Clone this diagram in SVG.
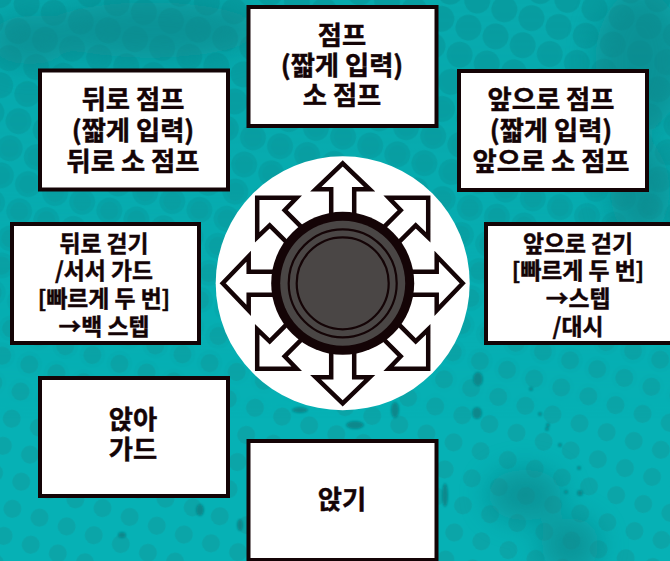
<svg xmlns="http://www.w3.org/2000/svg" width="670" height="561" viewBox="0 0 670 561">
<style>
.box{fill:#fff;stroke:#140406;stroke-width:4}
.t{font-family:"Noto Sans CJK KR","Noto Sans",sans-serif;font-weight:700;fill:#140406;text-anchor:middle;stroke:#140406;stroke-width:.45}
.l{font-size:26.3px}
.m{font-size:22.8px}
.arrow{fill:#fff;stroke:#140406;stroke-width:4.5;stroke-miterlimit:10}
</style>
<defs>
<pattern id="dots" width="28.5" height="28.5" patternUnits="userSpaceOnUse" patternTransform="translate(480 361) rotate(18)">
<circle cx="0" cy="0" r="9" fill="#0ba5a8"/><circle cx="28.5" cy="0" r="9" fill="#0ba5a8"/><circle cx="0" cy="28.5" r="9" fill="#0ba5a8"/><circle cx="28.5" cy="28.5" r="9" fill="#0ba5a8"/>
</pattern>
<pattern id="dotsBig" width="28.5" height="28.5" patternUnits="userSpaceOnUse" patternTransform="translate(480 361) rotate(18)">
<circle cx="0" cy="0" r="13" fill="#079497"/><circle cx="28.5" cy="0" r="13" fill="#079497"/><circle cx="0" cy="28.5" r="13" fill="#079497"/><circle cx="28.5" cy="28.5" r="13" fill="#079497"/>
</pattern>
<linearGradient id="fade" x1="0" y1="0" x2="0" y2="1"><stop offset="0" stop-color="#fff"/><stop offset=".45" stop-color="#fff" stop-opacity=".75"/><stop offset="1" stop-color="#fff" stop-opacity="0"/></linearGradient>
<mask id="topFade" maskUnits="userSpaceOnUse" x="0" y="0" width="670" height="561"><rect width="670" height="420" fill="url(#fade)"/></mask>
<filter id="soft" x="-50%" y="-50%" width="200%" height="200%"><feGaussianBlur stdDeviation="14"/></filter>
<filter id="soft2" x="-50%" y="-50%" width="200%" height="200%"><feGaussianBlur stdDeviation="1"/></filter>
<polygon id="up" points="0,-120 27,-94 11.5,-94 11.5,-65 -11.5,-65 -11.5,-94 -27,-94"/>
<polygon id="diag" points="-85.5,-85.5 -46,-85.5 -58,-73 -38,-53 -53,-38 -73,-58 -85.5,-46"/>
</defs>
<g id="background">
<rect width="670" height="561" fill="#06b1b5"/>
<rect width="670" height="561" fill="url(#dots)"/>
<g mask="url(#topFade)">
<rect width="670" height="420" fill="#07a9ad"/>
<rect width="670" height="420" fill="url(#dotsBig)" opacity=".6"/>
</g>
<g filter="url(#soft)" fill="#07888c" opacity=".7">
<ellipse cx="150" cy="30" rx="110" ry="28"/>
<ellipse cx="30" cy="40" rx="40" ry="25"/>
<ellipse cx="640" cy="60" rx="45" ry="70"/>
<ellipse cx="640" cy="190" rx="30" ry="50"/>
<ellipse cx="525" cy="495" rx="38" ry="26"/>
<ellipse cx="570" cy="545" rx="30" ry="28"/>
</g>
<g filter="url(#soft2)" fill="#07888c">
<ellipse cx="478" cy="379" rx="5" ry="7"/><ellipse cx="477" cy="413" rx="5" ry="6"/><ellipse cx="445" cy="495" rx="3" ry="12"/><ellipse cx="300" cy="410" rx="8" ry="3"/><ellipse cx="355" cy="425" rx="9" ry="4"/><ellipse cx="395" cy="410" rx="4" ry="8"/><ellipse cx="240" cy="525" rx="3" ry="6"/><ellipse cx="200" cy="510" rx="4" ry="6"/><ellipse cx="122" cy="535" rx="4" ry="3"/>
<circle cx="531" cy="389" r="2"/><circle cx="540" cy="414" r="2"/><circle cx="547" cy="429" r="2"/><circle cx="548" cy="425" r="2"/><circle cx="560" cy="445" r="2"/><circle cx="579" cy="468" r="2"/><circle cx="580" cy="493" r="3"/><circle cx="566" cy="492" r="2"/>
</g>
</g>
<g id="connectors">
<circle cx="342.7" cy="283.3" r="127" fill="#fff"/>
<use href="#up" class="arrow" transform="translate(342.7 283.3)"/>
<use href="#up" class="arrow" transform="translate(342.7 283.3) rotate(90)"/>
<use href="#up" class="arrow" transform="translate(342.7 283.3) rotate(180)"/>
<use href="#up" class="arrow" transform="translate(342.7 283.3) rotate(270)"/>
<use href="#diag" class="arrow" transform="translate(342.7 283.3)"/>
<use href="#diag" class="arrow" transform="translate(342.7 283.3) rotate(90)"/>
<use href="#diag" class="arrow" transform="translate(342.7 283.3) rotate(180)"/>
<use href="#diag" class="arrow" transform="translate(342.7 283.3) rotate(270)"/>
</g>
<g id="stick">
<circle cx="342.7" cy="283.3" r="71.5" fill="#140406"/>
<circle cx="342.7" cy="283.3" r="62.5" fill="#4a4645"/>
<circle cx="342.7" cy="283.3" r="54" fill="none" stroke="#140406" stroke-width="2.2"/>
<circle cx="342.7" cy="283.3" r="46" fill="none" stroke="#140406" stroke-width="2.2"/>
</g>
<g id="node-jump">
<rect class="box" x="248.500" y="7" width="188" height="119"/>
<text class="t l" x="342" y="45">점프</text>
<text class="t l" x="342" y="75">(짧게 입력)</text>
<text class="t l" x="342" y="105">소 점프</text>
</g>
<g id="node-back-jump">
<rect class="box" x="40" y="70.500" width="188" height="119"/>
<text class="t l" x="133" y="109">뒤로 점프</text>
<text class="t l" x="133" y="140">(짧게 입력)</text>
<text class="t l" x="133" y="171">뒤로 소 점프</text>
</g>
<g id="node-forward-jump">
<rect class="box" x="459" y="71" width="188" height="119"/>
<text class="t l" x="551" y="109">앞으로 점프</text>
<text class="t l" x="551" y="140">(짧게 입력)</text>
<text class="t l" x="551" y="171">앞으로 소 점프</text>
</g>
<g id="node-back-walk">
<rect class="box" x="12" y="224" width="187" height="119"/>
<text class="t m" x="104" y="252">뒤로 걷기</text>
<text class="t m" x="104" y="279">/서서 가드</text>
<text class="t m" x="104" y="307">[빠르게 두 번]</text>
<text class="t m" x="104" y="335">→백 스텝</text>
</g>
<g id="node-forward-walk">
<rect class="box" x="486" y="224" width="190" height="119"/>
<text class="t m" x="578" y="252">앞으로 걷기</text>
<text class="t m" x="578" y="279">[빠르게 두 번]</text>
<text class="t m" x="578" y="307">→스텝</text>
<text class="t m" x="578" y="335">/대시</text>
</g>
<g id="node-crouch-guard">
<rect class="box" x="40" y="378" width="188" height="118"/>
<text class="t l" x="133" y="429">앉아</text>
<text class="t l" x="133" y="459">가드</text>
</g>
<g id="node-crouch">
<rect class="box" x="248.500" y="441" width="188" height="119"/>
<text class="t l" x="342" y="509">앉기</text>
</g>
</svg>
